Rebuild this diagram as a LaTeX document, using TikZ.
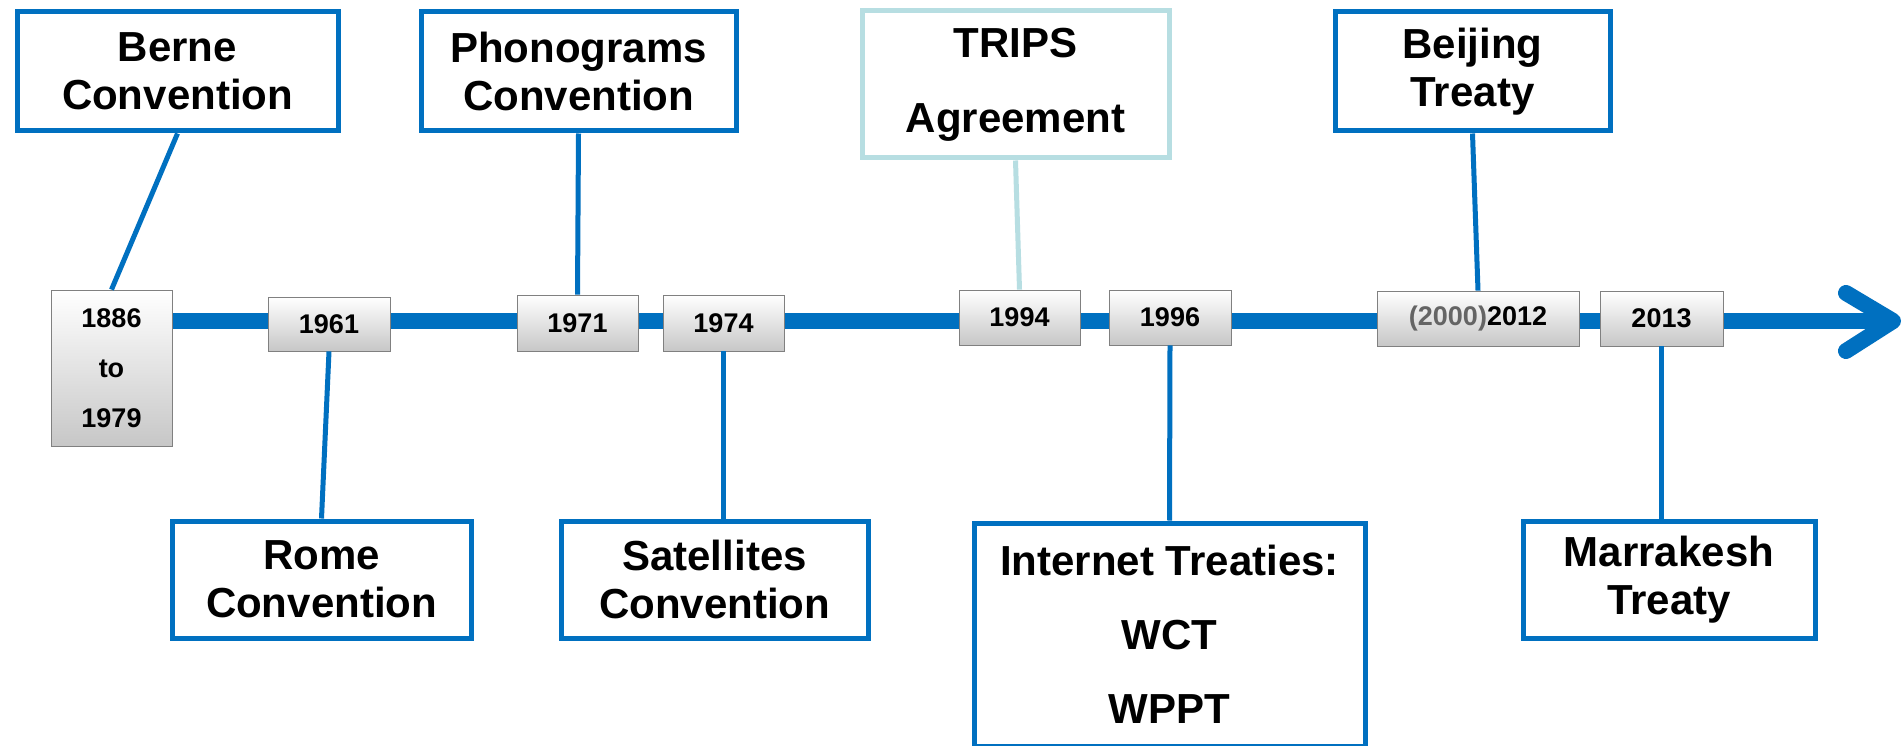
\documentclass[tikz,border=0pt]{standalone}
\usepackage{fontspec}
\setmainfont{Liberation Sans}
\definecolor{tblue}{RGB}{0,112,192}
\definecolor{tlight}{RGB}{183,222,226}
\definecolor{tgray}{RGB}{100,100,100}
\begin{document}
\begin{tikzpicture}[x=1pt,y=-1pt,
  lbox/.style={draw=tblue, line width=5pt, fill=white, align=center, inner sep=0pt,
    font=\fontsize{42}{48}\selectfont\bfseries},
  ybox/.style={draw=black!50, line width=0.8pt, top color=white, middle color=black!4,
    bottom color=black!22, align=center, inner sep=0pt,
    font=\fontsize{27}{50}\selectfont\bfseries},
  conn/.style={draw=tblue, line width=5pt},
  timeline/.style={draw=tblue, line width=16pt},
  arrowarm/.style={draw=tblue, line width=16pt, line cap=round, line join=round}]
\useasboundingbox (0,0) rectangle (1903,746);
\fill[white] (0,0) rectangle (1903,746);

% timeline
\coordinate (tstart) at (160,321);
\coordinate (tip) at (1893,321);
\coordinate (armA) at (1846,293);
\coordinate (armB) at (1846,351);
\draw[timeline] (tstart) -- (tip);
\draw[arrowarm] (armA) -- (tip) -- (armB);

% year boxes
\node[ybox, minimum width=121pt, minimum height=156pt] (y1886) at (111.5,368) {1886\\to\\1979};
\node[ybox, minimum width=122pt, minimum height=54pt] (y1961) at (329,324) {1961};
\node[ybox, minimum width=121pt, minimum height=56pt] (y1971) at (577.5,323) {1971};
\node[ybox, minimum width=121pt, minimum height=56pt] (y1974) at (723.5,323) {1974};
\node[ybox, minimum width=121pt, minimum height=55pt] (y1994) at (1019.5,317.5) {1994};
\node[ybox, minimum width=122pt, minimum height=55pt] (y1996) at (1170,317.5) {1996};
\node[ybox, minimum width=202pt, minimum height=55pt] (y2012) at (1478,318.5) {{\color{tgray}(2000)}2012};
\node[ybox, minimum width=123pt, minimum height=55pt] (y2013) at (1661.5,318.5) {2013};

% label boxes
\node[lbox, minimum width=321pt, minimum height=119pt] (berne) at (177.5,71.5) {Berne\\Convention};
\node[lbox, minimum width=299pt, minimum height=117pt] (rome) at (321.5,579.5) {Rome\\Convention};
\node[lbox, minimum width=315pt, minimum height=119pt] (phono) at (578.5,71.5) {Phonograms\\Convention};
\node[lbox, minimum width=307pt, minimum height=117pt] (sat) at (714.5,579.5) {Satellites\\Convention};
\node[lbox, draw=tlight, minimum width=307pt, minimum height=147pt,
  font=\fontsize{42}{75}\selectfont\bfseries] (trips) at (1015.5,84.5) {TRIPS\\Agreement};
\node[lbox, minimum width=391pt, minimum height=223pt,
  font=\fontsize{42}{74}\selectfont\bfseries] (inet) at (1169.5,634.5) {Internet Treaties:\\WCT\\WPPT};
\node[lbox, minimum width=275pt, minimum height=119pt] (beijing) at (1472.5,71.5) {Beijing\\Treaty};
\node[lbox, minimum width=292pt, minimum height=117pt] (marr) at (1669,579.5) {Marrakesh\\Treaty};

% connectors
\draw[conn] (berne.south) -- (y1886.north);
\draw[conn] (y1961.south) -- (rome.north);
\draw[conn] (phono.south) -- (y1971.north);
\draw[conn] (y1974.south) -- (y1974.south |- sat.north);
\draw[conn, draw=tlight] (trips.south) -- (y1994.north);
\draw[conn] (y1996.south) -- (inet.north);
\draw[conn] (beijing.south) -- (y2012.north);
\draw[conn] (y2013.south) -- (y2013.south |- marr.north);
\end{tikzpicture}
\end{document}
